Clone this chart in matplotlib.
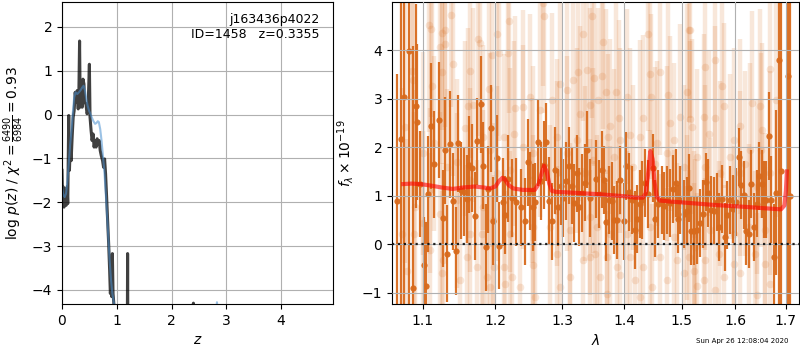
import numpy as np
import matplotlib
matplotlib.use('Agg')
import matplotlib.pyplot as plt
from matplotlib.ticker import FixedLocator, FixedFormatter, NullLocator


# ---- p(z) panel ----
pz_z = [0.000, 0.012, 0.025, 0.037, 0.056, 0.074, 0.093, 0.105, 0.123, 0.136,
        0.154, 0.167, 0.185, 0.204, 0.222, 0.241, 0.259, 0.278, 0.296, 0.309,
        0.321, 0.333, 0.352, 0.370, 0.383, 0.401, 0.414, 0.438, 0.457, 0.475,
        0.500, 0.512, 0.531, 0.549, 0.568, 0.586, 0.605, 0.623, 0.642, 0.660,
        0.679, 0.698, 0.716, 0.741, 0.759, 0.778, 0.796, 0.815, 0.833, 0.852,
        0.870, 0.883, 0.895, 0.907, 0.920, 0.932, 0.951, 0.975, 1.050, 1.190,
        1.198, 1.205, 1.300, 2.390, 2.400, 2.410, 3.000, 4.950]
pz_logp = [-1.27, -2.03, -1.65, -2.11, -1.73, -2.07, -1.65, -2.03, -0.02, -1.27,
           -0.59, -1.05, -0.52, -0.06, 0.09, 0.51, 0.28, 0.55, 0.13, 0.58,
           1.68, 0.17, 0.39, 0.17, 0.81, 0.70, 0.28, 0.24, 0.02, 0.09,
           1.15, -0.06, -0.36, -0.59, -0.44, -0.74, -0.59, -0.74, -0.55, -0.67,
           -0.59, -0.82, -0.93, -1.05, -1.20, -1.01, -1.35, -1.88, -2.41, -2.94,
           -3.55, -4.08, -3.92, -4.15, -3.17, -4.08, -4.38, -4.90, -7.00, -6.00,
           -3.17, -6.00, -8.00, -6.00, -4.30, -6.00, -9.00, -9.00]

smooth_z = [0.000, 0.025, 0.049, 0.074, 0.099, 0.123, 0.148, 0.173, 0.198, 0.222,
            0.247, 0.278, 0.309, 0.340, 0.370, 0.395, 0.420, 0.444, 0.469, 0.494,
            0.519, 0.543, 0.574, 0.605, 0.630, 0.654, 0.673, 0.698, 0.722, 0.747,
            0.772, 0.796, 0.821, 0.846, 0.870, 0.895, 0.920, 0.944, 0.969, 1.006,
            1.200, 2.780, 2.830, 2.880, 4.950]
smooth_logp = [-1.65, -1.84, -1.88, -1.80, -1.50, -1.12, -0.70, -0.36, 0.05, 0.39,
               0.51, 0.47, 0.51, 0.56, 0.62, 0.66, 0.55, 0.36, 0.20, 0.09,
               0.02, -0.06, -0.15, -0.21, -0.19, -0.15, -0.17, -0.33, -0.59, -0.93,
               -1.27, -1.73, -2.26, -2.79, -3.32, -3.77, -4.08, -4.27, -4.42, -4.70,
               -7.00, -5.00, -4.28, -5.00, -9.00]

# ---- spectrum panel: binned points ----
dark_wave = [1.0670, 1.0717, 1.0750, 1.0824, 1.0864, 1.0903, 1.0929, 1.0964, 1.1013, 1.1043,
             1.1074, 1.1114, 1.1150, 1.1216, 1.1262, 1.1302, 1.1329, 1.1370, 1.1411, 1.1452,
             1.1479, 1.1521, 1.1554, 1.1600, 1.1627, 1.1674, 1.1716, 1.1744, 1.1787, 1.1829,
             1.1871, 1.1900, 1.1943, 1.1972,
             1.2029, 1.2058, 1.2102, 1.2145, 1.2189, 1.2239, 1.2302, 1.2366, 1.2431, 1.2476,
             1.2511, 1.2551, 1.2590, 1.2635, 1.2672, 1.2712, 1.2753, 1.2794, 1.2841, 1.2881,
             1.2933, 1.2974, 1.3020, 1.3062, 1.3104, 1.3152, 1.3188, 1.3231, 1.3272, 1.3316,
             1.3364, 1.3400, 1.3444,
             1.3541, 1.3589, 1.3634, 1.3672, 1.3704, 1.3748, 1.3799, 1.3837, 1.3881, 1.3937,
             1.3992, 1.4032, 1.4092, 1.4139, 1.4178, 1.4218, 1.4269, 1.4309, 1.4361, 1.4417,
             1.4499, 1.4539, 1.4591, 1.4645, 1.4692, 1.4745, 1.4798, 1.4851, 1.4892, 1.4928,
             1.4977, 1.5036, 1.5090, 1.5133, 1.5176,
             1.5230, 1.5279, 1.5327, 1.5383, 1.5438, 1.5488, 1.5538, 1.5594, 1.5643, 1.5688,
             1.5745, 1.5801, 1.5850, 1.5902, 1.5954, 1.6011, 1.6061, 1.6108, 1.6158, 1.6210,
             1.6268, 1.6308, 1.6361, 1.6419, 1.6470, 1.6519, 1.6564, 1.6604, 1.6649, 1.6698,
             1.6750, 1.6804, 1.6854, 1.6905, 1.7033, 1.7078]
dark_flux = [0.90, 2.17, 3.03, 3.99, -0.91, 2.85, 2.52, 1.24, -0.43, -0.85,
             1.04, 2.43, 1.65, 2.56, 0.54, 1.94, -0.19, 2.06, 0.89, -0.14,
             2.08, 1.11, 1.08, 0.93, 1.64, 1.57, 0.58, 2.12, 2.88, 1.62,
             -0.06, 1.13, 2.39, 0.48,
             1.77, -0.03, 0.87, 0.60, 1.35, 0.95, 0.87, 0.76, 0.47, 1.69,
             1.10, 0.76, 0.87, 2.10, 1.30, 1.63, 2.10, 0.90, 0.47, 1.52,
             0.76, 1.20, 0.95, 1.30, 1.62, 1.21, 0.85, 1.46, 0.77, 1.05,
             1.27, 1.95, 0.95,
             1.35, 1.04, 1.54, 1.33, 0.46, 0.91, 0.89, 0.50, 0.50, 1.32,
             0.47, 1.62, 1.08, 0.91, 0.30, 0.52, 0.82, 0.91, 1.27, 1.04,
             1.58, 0.53, 0.82, 0.92, 0.79, 0.91, 0.85, 1.13, 1.26, 0.52,
             0.91, 0.63, 0.68, 1.15, 0.27,
             0.27, 0.29, 0.43, 0.63, 1.29, 1.06, 0.71, 0.69, 0.87, 0.36,
             0.93, 0.15, 0.60, 0.92, 0.73, 0.87, 1.80, 1.22, 1.02, 0.27,
             0.22, 1.25, 0.36, 0.84, 1.40, 1.24, 0.92, 0.92, 2.23, 0.92,
             -0.26, 1.06, 3.79, 1.50, 3.46, 1.00]
dark_err = [2.6, 4.5, 4.5, 5.5, 5.0, 2.1, 1.6, 1.1, 1.0, 1.3,
            1.2, 1.3, 1.1, 1.2, 1.0, 1.1, 1.0, 1.1, 1.0, 0.9,
            1.0, 1.0, 0.9, 0.9, 1.0, 0.9, 0.9, 0.9, 1.0, 0.9,
            0.9, 0.9, 0.9, 0.9,
            0.9, 0.9, 0.9, 0.8, 0.9, 0.8, 0.9, 0.8, 0.9, 0.9,
            0.8, 0.9, 0.8, 0.9, 0.8, 0.9, 0.8, 0.9, 0.8, 0.9,
            0.8, 0.8, 0.8, 0.8, 0.8, 0.8, 0.8, 0.8, 0.8, 0.8,
            0.8, 0.8, 0.8,
            0.8, 0.7, 0.8, 0.7, 0.8, 0.7, 0.8, 0.7, 0.8, 0.7,
            0.8, 0.7, 0.8, 0.7, 0.8, 0.7, 0.7, 0.8, 0.7, 0.7,
            0.7, 0.8, 0.7, 0.7, 0.7, 0.7, 0.7, 0.7, 0.7, 0.7,
            0.7, 0.7, 0.7, 0.7, 0.7,
            0.7, 0.7, 0.7, 0.7, 0.6, 0.7, 0.7, 0.7, 0.6, 0.7,
            0.7, 0.7, 0.7, 0.7, 0.7, 0.7, 0.6, 0.7, 0.7, 0.7,
            0.7, 0.7, 0.7, 0.7, 0.7, 0.7, 0.8, 0.8, 0.9, 0.9,
            1.1, 1.7, 6.0, 6.0, 6.0, 6.0]

# ---- spectrum panel: unbinned points (faint) ----
faint_wave = [1.1087, 1.1109, 1.1261, 1.1298, 1.1374, 1.1231, 1.1289, 1.1401, 1.1642, 1.1754,
              1.1782, 1.1948, 1.1905, 1.1610, 1.1688, 1.1572, 1.0769, 1.1119, 1.1261, 1.0856,
              1.0869, 1.1458, 1.1925, 1.1829, 1.1141, 1.1007, 1.1321, 1.1642, 1.1829, 1.1097,
              1.1458, 1.1231, 1.1007, 1.0886, 1.1642, 1.1270, 1.1249, 1.1596, 1.1735, 1.1876,
              1.0791, 1.1097, 1.1925, 1.0899, 1.0727, 1.1503, 1.1806,
              1.2199, 1.2697, 1.2712, 1.2029, 1.2058, 1.2175, 1.3168, 1.3241, 1.3400, 1.3472,
              1.3326, 1.2287, 1.2400, 1.2511, 1.2662, 1.2841, 1.2969, 1.3073, 1.3284, 1.3444,
              1.2117, 1.2263, 1.2410, 1.2560, 1.2918, 1.3073, 1.3231, 1.2020, 1.2214, 1.2536,
              1.2918, 1.3364, 1.1972, 1.2214, 1.2551, 1.2814, 1.3126, 1.3444, 1.1986, 1.2117,
              1.2239, 1.2362, 1.2587, 1.2560, 1.2918, 1.2969, 1.3126, 1.3336, 1.3444, 1.2142,
              1.3660, 1.4417, 1.4622, 1.5126, 1.3509, 1.3634, 1.3704, 1.3870, 1.4049, 1.4447,
              1.4465, 1.4751, 1.5097, 1.5157, 1.3577, 1.3771, 1.3921, 1.4330, 1.4977, 1.4798,
              1.3741, 1.3937, 1.4105, 1.4275, 1.4565, 1.4857, 1.3497, 1.3826, 1.4160, 1.4534,
              1.4740, 1.5036, 1.3552, 1.3771, 1.4049, 1.4447, 1.4857, 1.5097, 1.3525, 1.3715,
              1.3881, 1.4105, 1.4330, 1.4622, 1.4916, 1.5126, 1.3606, 1.3937, 1.4189, 1.4478,
              1.4740, 1.5036, 1.3715, 1.4275,
              1.5619, 1.5433, 1.5745, 1.5157, 1.6670, 1.6804, 1.5775, 1.6322, 1.6485, 1.6519,
              1.5402, 1.5619, 1.5188, 1.5494, 1.5966, 1.6094, 1.5902, 1.6191, 1.6288, 1.6499,
              1.5433, 1.5279, 1.5713, 1.6094, 1.6684, 1.6419, 1.5218, 1.5525, 1.5966, 1.6255,
              1.6584, 1.5248, 1.5433, 1.5681, 1.5966, 1.6386, 1.6584, 1.5218, 1.5402, 1.5775,
              1.6094, 1.6419, 1.5279, 1.5619, 1.6684]
faint_flux = [4.52, 4.43, 4.36, 4.41, 4.72, 4.07, 4.12, 3.71, 3.57, 4.22,
              4.14, 3.90, 3.19, 2.85, 2.87, 2.39, 2.42, 3.26, 3.55, 3.57,
              3.38, 1.70, 1.94, 2.20, 2.08, 1.87, 1.60, 1.32, 0.77, 1.11,
              0.91, 0.63, 0.43, 0.22, 0.22, -0.33, -0.60, -0.26, -0.47, -0.67,
              -0.54, -0.12, -0.88, 0.77, 0.22, -0.74, 0.22,
              4.60, 4.96, 4.70, 4.34, 3.93, 3.93, 3.38, 3.55, 3.59, 4.70,
              4.34, 2.80, 2.83, 3.04, 2.76, 2.97, 3.31, 3.18, 2.69, 2.87,
              2.21, 2.28, 2.00, 1.87, 2.21, 1.87, 2.14, 1.46, 1.53, 1.32,
              1.46, 1.46, 0.49, 0.22, 0.36, 0.36, 0.29, 0.56, -0.47, -0.47,
              -0.67, -0.88, -1.09, -0.43, -0.19, -0.88, -0.67, -0.33, -0.26, -0.81,
              4.17, 4.34, 3.54, 4.41, 3.42, 3.46, 3.14, 3.14, 3.04, 3.51,
              3.04, 3.07, 3.14, 2.59, 2.97, 2.43, 2.61, 2.61, 2.63, 2.49,
              2.21, 2.14, 2.25, 2.21, 2.08, 2.14, 1.73, 1.80, 1.59, 1.66,
              1.87, 1.59, 0.36, 0.22, 0.22, 0.36, 0.15, 0.56, -0.19, -0.26,
              -0.47, -0.26, -0.47, -0.26, -0.33, -0.26, -0.67, -0.64, -0.74, -0.88,
              -0.74, -0.60, -1.02, -1.09,
              3.79, 3.66, 3.26, 4.41, 3.60, 2.97, 2.85, 2.91, 2.85, 2.35,
              2.63, 2.60, 2.42, 2.28, 2.14, 2.43, 1.80, 1.66, 1.94, 1.94,
              1.59, 1.80, 1.46, 1.46, 1.46, 1.18, 0.22, 0.29, 0.22, 0.36,
              0.29, -0.05, -0.33, -0.19, -0.40, -0.19, -0.40, -0.54, -0.74, -0.67,
              -0.60, -1.05, -0.85, -0.95, -0.81]
faint_err = [2.2, 1.8, 2.0, 2.4, 1.9, 2.1, 1.7, 2.3, 1.8, 2.0,
             2.2, 1.9, 2.1, 1.6, 2.0, 1.8, 2.8, 2.2, 1.9, 2.6,
             2.4, 1.7, 2.0, 1.9, 1.8, 2.1, 1.6, 1.9, 2.0, 1.7,
             1.8, 2.1, 1.9, 2.5, 1.8, 2.0, 1.7, 1.9, 2.2, 1.8,
             2.7, 2.0, 1.9, 2.4, 3.0, 1.8, 2.1,
             1.9, 1.7, 2.0, 2.1, 1.8, 2.2, 1.9, 2.0, 1.7, 2.1,
             1.8, 1.9, 2.0, 1.7, 2.2, 1.8, 1.9, 2.1, 1.8, 2.0,
             1.7, 1.9, 2.1, 1.8, 1.6, 2.0, 1.9, 1.8, 2.1, 1.7,
             1.9, 1.8, 2.0, 1.7, 1.9, 2.1, 1.8, 1.6, 1.9, 2.0,
             1.8, 1.7, 1.9, 2.1, 1.8, 1.7, 2.0, 1.9, 1.8, 1.9,
             1.8, 2.0, 1.7, 1.9, 1.8, 2.1, 1.7, 1.9, 1.8, 2.0,
             1.7, 1.9, 1.8, 1.6, 1.9, 1.8, 2.0, 1.7, 1.9, 1.8,
             1.7, 1.9, 1.8, 2.0, 1.7, 1.6, 1.9, 1.8, 1.7, 2.0,
             1.8, 1.7, 1.9, 1.8, 1.7, 2.0, 1.8, 1.7, 1.9, 1.8,
             1.7, 1.9, 1.8, 1.7, 2.0, 1.8, 1.7, 1.9, 1.8, 1.7,
             1.9, 1.8, 1.7, 1.9,
             1.8, 1.7, 1.9, 1.8, 2.2, 2.4, 1.7, 1.9, 2.0, 1.8,
             1.7, 1.9, 1.8, 1.7, 1.9, 1.8, 1.7, 1.9, 1.8, 2.0,
             1.7, 1.8, 1.9, 1.7, 2.1, 1.8, 1.7, 1.9, 1.8, 1.7,
             2.0, 1.8, 1.7, 1.9, 1.8, 1.7, 2.0, 1.8, 1.7, 1.9,
             1.8, 1.7, 1.9, 1.8, 2.2]

# ---- best-fit model ----
model_wave = [1.0745, 1.085, 1.097, 1.110, 1.125, 1.140, 1.155, 1.170, 1.183, 1.192,
              1.200, 1.205, 1.210, 1.214, 1.219, 1.226, 1.240, 1.258, 1.264, 1.268,
              1.272, 1.276, 1.280, 1.284, 1.290, 1.320, 1.360, 1.400, 1.420, 1.432,
              1.437, 1.441, 1.445, 1.449, 1.452, 1.456, 1.462, 1.480, 1.515, 1.560,
              1.620, 1.660, 1.690, 1.697, 1.700, 1.702]
model_flux = [1.24, 1.25, 1.24, 1.21, 1.17, 1.14, 1.17, 1.19, 1.17, 1.15,
              1.19, 1.30, 1.37, 1.33, 1.22, 1.15, 1.12, 1.12, 1.25, 1.45,
              1.62, 1.50, 1.25, 1.10, 1.08, 1.06, 1.03, 0.99, 0.96, 0.96,
              1.05, 1.45, 1.92, 1.75, 1.30, 0.98, 0.90, 0.88, 0.85, 0.81,
              0.77, 0.74, 0.72, 0.80, 1.10, 1.50]

chi2_text = r'log $p(z)$ / $\chi^2=\frac{6490}{6984}=0.93$'
label_text = 'j163436p4022\nID=1458   z=0.3355'
time_text = 'Sun Apr 26 12:08:04 2020'
wave_ticks = [1.1, 1.2, 1.3, 1.4, 1.5, 1.6, 1.7]

orange = '#d86a1c'

fig = plt.figure(figsize=(8, 3.5), dpi=100)

# left: redshift probability
ax1 = fig.add_axes([0.0775, 0.1314, 0.3388, 0.8629])
ax1.plot(pz_z, pz_logp, color='k', alpha=0.75, lw=2.2)
ax1.plot(smooth_z, smooth_logp, color='#4a90d0', alpha=0.55, lw=1.5)
ax1.set_xlim(0, 4.95)
ax1.set_ylim(-4.32, 2.57)
ax1.set_xticks([0, 1, 2, 3, 4])
ax1.set_yticks([-4, -3, -2, -1, 0, 1, 2])
ax1.grid()
ax1.set_xlabel('$z$')
ax1.set_ylabel(chi2_text)
ax1.text(0.95, 0.965, label_text, ha='right', va='top',
         transform=ax1.transAxes, fontsize=9)

# right: spectrum
ax2 = fig.add_axes([0.49, 0.1314, 0.5088, 0.8629])
ax2.set_axisbelow(False)
ax2.errorbar(faint_wave, faint_flux, yerr=faint_err, marker='o', ms=5.5,
             color=orange, alpha=0.16, linestyle='none', elinewidth=3.2,
             mec='none')
ax2.errorbar(dark_wave, dark_flux, yerr=dark_err, marker='o', ms=4.5,
             color=orange, alpha=0.95, linestyle='none', elinewidth=1.6,
             mec='none')
ax2.plot(model_wave, model_flux, color='r', alpha=0.6, lw=3, zorder=5)
ax2.axhline(0, color='k', linestyle=':', lw=1.6, alpha=0.85, zorder=6)
ax2.set_xscale('log')
ax2.set_xlim(1.060, 1.727)
ax2.set_ylim(-1.23, 4.99)
ax2.xaxis.set_major_locator(FixedLocator(wave_ticks))
ax2.xaxis.set_major_formatter(FixedFormatter([f'{w:.1f}' for w in wave_ticks]))
ax2.xaxis.set_minor_locator(NullLocator())
ax2.set_yticks([-1, 0, 1, 2, 3, 4])
ax2.grid()
ax2.set_xlabel(r'$\lambda$')
ax2.set_ylabel(r'$f_\lambda\times10^{-19}$')

fig.text(0.985, 0.017, time_text, ha='right', va='bottom', fontsize=5)

fig.savefig('out.png', dpi=100)
